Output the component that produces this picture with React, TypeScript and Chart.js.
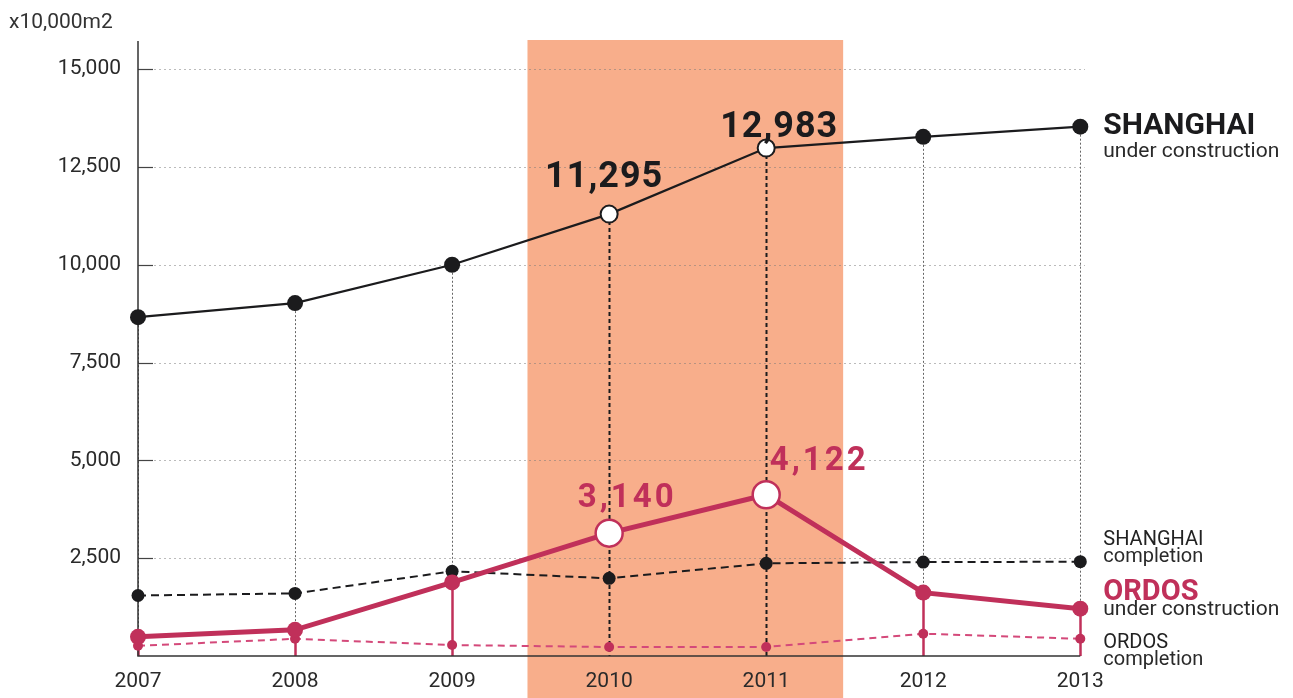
import React, { useEffect, useRef } from "react";
import { Chart, registerables } from "chart.js";

Chart.register(...registerables);

// ---------- data ----------
const years = [2007, 2008, 2009, 2010, 2011, 2012, 2013];
const shanghaiUnderConstruction = [8660, 9020, 10000, 11295, 12983, 13270, 13530];
const shanghaiCompletion = [1546, 1600, 2165, 1985, 2370, 2400, 2410];
const ordosUnderConstruction = [490, 670, 1880, 3140, 4122, 1620, 1210];
const ordosCompletion = [260, 440, 280, 230, 230, 570, 440];
const yTickValues = [2500, 5000, 7500, 10000, 12500, 15000];
const highlightYears = [2010, 2011];
const highlightRange = [2009.48, 2011.49];
const yAxisTitle = "x10,000m2";
const seriesTitles = ["SHANGHAI", "SHANGHAI", "ORDOS", "ORDOS"];
const seriesSubtitles = ["under construction", "completion", "under construction", "completion"];

// ---------- styles ----------
const BLACK = "#1b1b1d";
const RED = "#c0305a";
const RED_LIGHT = "#d4497a";
const BAND = "#f8ae8b";
const FONT = "Roboto, 'DejaVu Sans', sans-serif";

const isHi = (y: number) => highlightYears.includes(y);

const decorPlugin = {
  id: "decor",
  beforeDraw(chart: any) {
    const { ctx, chartArea } = chart;
    const xs = chart.scales.x;
    const ys = chart.scales.y;
    ctx.save();
    // highlight band
    const bx0 = xs.getPixelForValue(highlightRange[0]);
    const bx1 = xs.getPixelForValue(highlightRange[1]);
    ctx.fillStyle = BAND;
    ctx.fillRect(bx0, chartArea.top - 1, bx1 - bx0, chart.height - chartArea.top + 1);
    // grid lines
    yTickValues.forEach((v) => {
      const y = Math.round(ys.getPixelForValue(v)) + 0.5;
      ctx.setLineDash([2, 3]);
      ctx.strokeStyle = "rgba(120,120,120,0.5)";
      ctx.lineWidth = 1;
      ctx.beginPath();
      ctx.moveTo(chartArea.left + 16, y);
      ctx.lineTo(chartArea.right, y);
      ctx.stroke();
      ctx.setLineDash([]);
      ctx.strokeStyle = "#444";
      ctx.lineWidth = 1.2;
      ctx.beginPath();
      ctx.moveTo(chartArea.left, y);
      ctx.lineTo(chartArea.left + 15, y);
      ctx.stroke();
    });
    ctx.restore();
  },
  beforeDatasetsDraw(chart: any) {
    const { ctx, chartArea } = chart;
    const xs = chart.scales.x;
    const ys = chart.scales.y;
    ctx.save();
    years.forEach((yr, i) => {
      const x = Math.round(xs.getPixelForValue(yr)) + 0.5;
      const yTop = ys.getPixelForValue(shanghaiUnderConstruction[i]);
      if (isHi(yr)) {
        ctx.setLineDash([4, 3]);
        ctx.strokeStyle = BLACK;
        ctx.lineWidth = 2;
      } else {
        ctx.setLineDash([2, 2]);
        ctx.strokeStyle = "#666";
        ctx.lineWidth = 1;
      }
      ctx.beginPath();
      ctx.moveTo(x, yTop);
      ctx.lineTo(x, chartArea.bottom);
      ctx.stroke();
      if (!isHi(yr)) {
        const yo = ys.getPixelForValue(ordosUnderConstruction[i]);
        ctx.setLineDash([]);
        ctx.strokeStyle = RED;
        ctx.lineWidth = 2.5;
        ctx.beginPath();
        ctx.moveTo(x, yo);
        ctx.lineTo(x, chartArea.bottom);
        ctx.stroke();
      }
    });
    // axes
    ctx.setLineDash([]);
    ctx.strokeStyle = "#333";
    ctx.lineWidth = 1.5;
    ctx.beginPath();
    ctx.moveTo(chartArea.left, chartArea.top);
    ctx.lineTo(chartArea.left, chartArea.bottom);
    ctx.lineTo(xs.getPixelForValue(years[years.length - 1]), chartArea.bottom);
    ctx.stroke();
    ctx.restore();
  },
  afterDatasetsDraw(chart: any) {
    const { ctx } = chart;
    const xs = chart.scales.x;
    const ys = chart.scales.y;
    ctx.save();
    ctx.textAlign = "center";
    ctx.textBaseline = "alphabetic";
    // value callouts on highlighted years
    const shOff = [[-5, -27], [13, -11]];
    const orOff = [[18, -26], [53, -25]];
    highlightYears.forEach((yr, k) => {
      const i = years.indexOf(yr);
      const x = xs.getPixelForValue(yr);
      ctx.fillStyle = BLACK;
      ctx.font = `bold 36px ${FONT}`;
      (ctx as any).letterSpacing = "1px";
      ctx.fillText(
        shanghaiUnderConstruction[i].toLocaleString("en-US"),
        x + shOff[k][0],
        ys.getPixelForValue(shanghaiUnderConstruction[i]) + shOff[k][1]
      );
      ctx.fillStyle = RED;
      ctx.font = `bold 33px ${FONT}`;
      (ctx as any).letterSpacing = "3px";
      ctx.fillText(
        ordosUnderConstruction[i].toLocaleString("en-US"),
        x + orOff[k][0],
        ys.getPixelForValue(ordosUnderConstruction[i]) + orOff[k][1]
      );
    });
    (ctx as any).letterSpacing = "0px";
    // series labels at right
    const series = [shanghaiUnderConstruction, shanghaiCompletion, ordosUnderConstruction, ordosCompletion];
    const last = years.length - 1;
    const lx = xs.getPixelForValue(years[last]) + 23;
    const specs = [
      { tFont: `bold 30px ${FONT}`, tColor: BLACK, tDy: 7, sFont: `21px ${FONT}`, sDy: 30 },
      { tFont: `20px ${FONT}`, tColor: "#222", tDy: -17, sFont: `20px ${FONT}`, sDy: 0 },
      { tFont: `bold 29px ${FONT}`, tColor: RED, tDy: -9, sFont: `21px ${FONT}`, sDy: 6 },
      { tFont: `20px ${FONT}`, tColor: "#222", tDy: 9, sFont: `20px ${FONT}`, sDy: 26 },
    ];
    ctx.textAlign = "left";
    series.forEach((s, k) => {
      const py = ys.getPixelForValue(s[last]);
      const sp = specs[k];
      ctx.font = sp.tFont;
      ctx.fillStyle = sp.tColor;
      ctx.fillText(seriesTitles[k], lx, py + sp.tDy);
      ctx.font = sp.sFont;
      ctx.fillStyle = "#2a2a2a";
      ctx.fillText(seriesSubtitles[k], lx, py + sp.sDy);
    });
    // y axis unit title
    ctx.font = `21px ${FONT}`;
    ctx.fillStyle = "#333";
    ctx.fillText(yAxisTitle, 9, 28);
    ctx.restore();
  },
};

export default function App() {
  const canvasRef = useRef<HTMLCanvasElement | null>(null);

  useEffect(() => {
    document.body.style.margin = "0";
    const canvas = canvasRef.current;
    if (!canvas) return;

    const toPts = (arr: number[]) => years.map((yr, i) => ({ x: yr, y: arr[i] }));

    const chart = new Chart(canvas, {
      type: "line",
      data: {
        datasets: [
          {
            label: "ORDOS under construction",
            data: toPts(ordosUnderConstruction),
            order: 1,
            borderColor: RED,
            borderWidth: 5,
            tension: 0,
            clip: false as any,
            pointRadius: years.map((y) => (isHi(y) ? 13.5 : 8)),
            pointHoverRadius: years.map((y) => (isHi(y) ? 13.5 : 8)),
            pointBackgroundColor: years.map((y) => (isHi(y) ? "#ffffff" : RED)),
            pointBorderColor: RED,
            pointBorderWidth: years.map((y) => (isHi(y) ? 2.5 : 0)),
          },
          {
            label: "ORDOS completion",
            data: toPts(ordosCompletion),
            order: 2,
            borderColor: RED_LIGHT,
            borderWidth: 2,
            borderDash: [7, 5],
            tension: 0,
            clip: false as any,
            pointRadius: 5,
            pointHoverRadius: 5,
            pointBackgroundColor: RED,
            pointBorderWidth: 0,
          },
          {
            label: "SHANGHAI completion",
            data: toPts(shanghaiCompletion),
            order: 3,
            borderColor: BLACK,
            borderWidth: 2,
            borderDash: [8, 5],
            tension: 0,
            clip: false as any,
            pointRadius: 6.5,
            pointHoverRadius: 6.5,
            pointBackgroundColor: BLACK,
            pointBorderWidth: 0,
          },
          {
            label: "SHANGHAI under construction",
            data: toPts(shanghaiUnderConstruction),
            order: 4,
            borderColor: BLACK,
            borderWidth: 2.2,
            tension: 0,
            clip: false as any,
            pointRadius: years.map((y) => (isHi(y) ? 8.5 : 8)),
            pointHoverRadius: years.map((y) => (isHi(y) ? 8.5 : 8)),
            pointBackgroundColor: years.map((y) => (isHi(y) ? "#ffffff" : BLACK)),
            pointBorderColor: BLACK,
            pointBorderWidth: years.map((y) => (isHi(y) ? 2 : 0)),
          },
        ],
      },
      options: {
        responsive: false,
        animation: false,
        events: [],
        layout: { padding: { top: 41, right: 208, left: 0, bottom: 0 } },
        plugins: {
          legend: { display: false },
          tooltip: { enabled: false },
          title: { display: false },
        },
        scales: {
          x: {
            type: "linear",
            min: years[0],
            max: years[years.length - 1] + 0.03,
            grid: { display: false, drawTicks: false },
            border: { display: false },
            afterBuildTicks: (s: any) => {
              s.ticks = years.map((v) => ({ value: v }));
            },
            afterFit: (s: any) => {
              s.height = 42;
            },
            ticks: {
              color: "#2a2a2a",
              font: { family: FONT, size: 21 },
              padding: 13,
              maxRotation: 0,
              autoSkip: false,
              callback: (v: any) => String(v),
            },
          },
          y: {
            type: "linear",
            min: 0,
            max: 15720,
            grid: { display: false, drawTicks: false },
            border: { display: false },
            afterBuildTicks: (s: any) => {
              s.ticks = yTickValues.map((v) => ({ value: v }));
            },
            afterFit: (s: any) => {
              s.width = 138;
            },
            ticks: {
              color: "#2a2a2a",
              font: { family: FONT, size: 21 },
              padding: 17,
              callback: (v: any) => Number(v).toLocaleString("en-US"),
            },
          },
        },
      },
      plugins: [decorPlugin],
    });

    return () => chart.destroy();
  }, []);

  return (
    <div style={{ width: 1293, height: 698, background: "#ffffff" }}>
      <canvas ref={canvasRef} width={1293} height={698} style={{ display: "block" }} />
    </div>
  );
}
